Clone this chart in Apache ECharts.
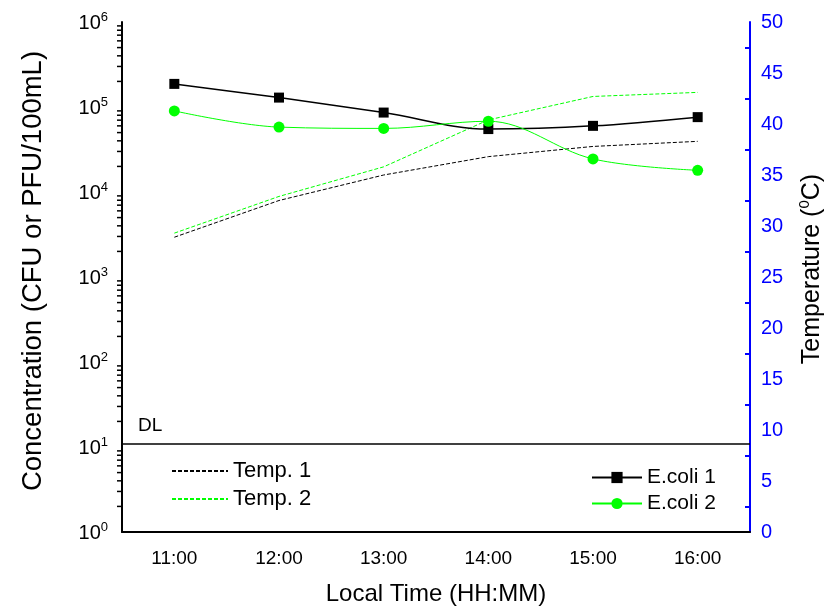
<!DOCTYPE html>
<html>
<head>
<meta charset="utf-8">
<script src="https://cdn.jsdelivr.net/npm/echarts@6/dist/echarts.min.js"></script>
<style>
  html, body { margin: 0; padding: 0; background: #fff; }
  #chart { width: 830px; height: 607px; }
</style>
</head>
<body>
<div id="chart"></div>
<script>
// data
const times = ['11:00', '12:00', '13:00', '14:00', '15:00', '16:00'];
const ecoli1 = [187000, 129000, 86000, 55000, 60000, 76000];
const ecoli2 = [90000, 58000, 56000, 68000, 24500, 18000];
const temp1 = [28.9, 32.5, 35.0, 36.8, 37.8, 38.3];
const temp2 = [29.3, 32.9, 35.8, 40.4, 42.7, 43.1];
const detectionLimit = 11;

// log axis minor ticks (2..9 in every decade)
const decades = [1, 10, 100, 1000, 10000, 100000];
const minorSteps = [2, 3, 4, 5, 6, 7, 8, 9];

const FONT = '"Liberation Sans", Arial, sans-serif';
const GREEN = '#00ff00';
const BLUE = '#0000ff';

const minorVals = [];
decades.forEach(d => minorSteps.forEach(s => minorVals.push([0, d * s])));

const chart = echarts.init(document.getElementById('chart'));

const option = {
  animation: false,
  textStyle: { fontFamily: FONT },
  grid: { left: 122, right: 80, top: 22, bottom: 75, containLabel: false, outerBoundsMode: 'none' },
  legend: [
    {
      data: ['Temp. 1', 'Temp. 2'],
      orient: 'vertical',
      left: 166,
      top: 455,
      itemWidth: 56,
      itemHeight: 14,
      itemGap: 6,
      itemStyle: { opacity: 0 },
      textStyle: { fontSize: 22, lineHeight: 22, color: '#000', fontFamily: FONT }
    },
    {
      data: ['E.coli 1', 'E.coli 2'],
      orient: 'vertical',
      left: 586,
      top: 462,
      itemWidth: 50,
      itemHeight: 14,
      itemGap: 5,
      textStyle: { fontSize: 21, lineHeight: 21, color: '#000', fontFamily: FONT }
    }
  ],
  xAxis: [
    {
      type: 'category',
      data: times,
      boundaryGap: true,
      position: 'bottom',
      name: 'Local Time (HH:MM)',
      nameLocation: 'middle',
      nameGap: 50,
      nameTextStyle: { fontSize: 24, color: '#000', fontFamily: FONT },
      axisLine: { lineStyle: { color: '#000', width: 2 } },
      axisTick: { alignWithLabel: true, length: 9, lineStyle: { color: '#000', width: 2 } },
      axisLabel: { fontSize: 19, color: '#000', margin: 17, fontFamily: FONT },
      splitLine: { show: false }
    },
    {
      type: 'category',
      data: times,
      boundaryGap: true,
      position: 'bottom',
      axisLine: { show: false },
      axisTick: { length: 5, lineStyle: { color: '#000', width: 2 } },
      axisLabel: { show: false },
      splitLine: { show: false }
    }
  ],
  yAxis: [
    {
      type: 'log',
      logBase: 10,
      min: 1,
      max: 1000000,
      splitNumber: 6,
      position: 'left',
      name: 'Concentration (CFU or PFU/100mL)',
      nameLocation: 'middle',
      nameRotate: 90,
      nameGap: 75,
      nameTextStyle: { fontSize: 27.5, color: '#000', fontFamily: FONT, padding: [0, 0, 0, 12] },
      axisLine: { show: true, lineStyle: { color: '#000', width: 2 } },
      axisTick: { length: 10, lineStyle: { color: '#000', width: 2 } },
      axisLabel: {
        margin: 14,
        padding: [3, 0, 0, 0],
        formatter: function (v) {
          return '{b|10}{s|' + Math.round(Math.log10(v)) + '}';
        },
        rich: {
          b: { fontSize: 20, color: '#000', fontFamily: FONT, lineHeight: 26 },
          s: { fontSize: 13, color: '#000', fontFamily: FONT, verticalAlign: 'top', lineHeight: 26 }
        }
      },
      splitLine: { show: false }
    },
    {
      type: 'value',
      min: 0,
      max: 50,
      interval: 5,
      position: 'right',
      name: 'Temperature ({sup|0}C)',
      nameLocation: 'middle',
      nameRotate: 90,
      nameGap: 47,
      nameTextStyle: {
        fontSize: 25,
        color: '#000',
        fontFamily: FONT,
        padding: [0, 0, 0, 16],
        rich: {
          sup: { fontSize: 15, color: '#000', fontFamily: FONT, verticalAlign: 'top', lineHeight: 30 }
        }
      },
      axisLine: { show: true, lineStyle: { color: BLUE, width: 2 } },
      axisTick: { inside: true, length: 10, lineStyle: { color: BLUE, width: 2 } },
      minorTick: { show: true, splitNumber: 2, length: 5, lineStyle: { color: BLUE, width: 2 } },
      axisLabel: { fontSize: 20, color: BLUE, margin: 11, fontFamily: FONT },
      splitLine: { show: false }
    }
  ],
  series: [
    {
      name: 'Temp. 1',
      type: 'line',
      yAxisIndex: 1,
      data: temp1,
      symbol: 'none',
      lineStyle: { color: '#000', width: 1, type: [4, 2] },
      itemStyle: { color: '#000' }
    },
    {
      name: 'Temp. 2',
      type: 'line',
      yAxisIndex: 1,
      data: temp2,
      symbol: 'none',
      lineStyle: { color: GREEN, width: 1, type: [4, 2] },
      itemStyle: { color: GREEN }
    },
    {
      name: 'E.coli 1',
      type: 'line',
      yAxisIndex: 0,
      data: ecoli1,
      smooth: 0.35,
      symbol: 'rect',
      symbolSize: 10,
      lineStyle: { color: '#000', width: 1.5 },
      itemStyle: { color: '#000' },
      markLine: {
        silent: true,
        symbol: 'none',
        data: [{ yAxis: detectionLimit }],
        lineStyle: { color: '#000', width: 1.5, type: 'solid' },
        label: {
          formatter: 'DL',
          position: 'insideStartTop',
          distance: [16, 8],
          fontSize: 19,
          color: '#000',
          fontFamily: FONT
        }
      }
    },
    {
      name: 'E.coli 2',
      type: 'line',
      yAxisIndex: 0,
      data: ecoli2,
      smooth: 0.35,
      symbol: 'circle',
      symbolSize: 11,
      lineStyle: { color: GREEN, width: 1 },
      itemStyle: { color: GREEN }
    },
    {
      // minor ticks of the log axis
      type: 'custom',
      yAxisIndex: 0,
      silent: true,
      data: minorVals,
      encode: { x: 0, y: 1 },
      renderItem: function (params, api) {
        const y = api.coord([0, api.value(1)])[1];
        const x = params.coordSys.x;
        return {
          type: 'line',
          shape: { x1: x - 5, y1: y, x2: x, y2: y },
          style: { stroke: '#000', lineWidth: 1.5 }
        };
      }
    }
  ]
};

chart.setOption(option);
</script>
</body>
</html>
